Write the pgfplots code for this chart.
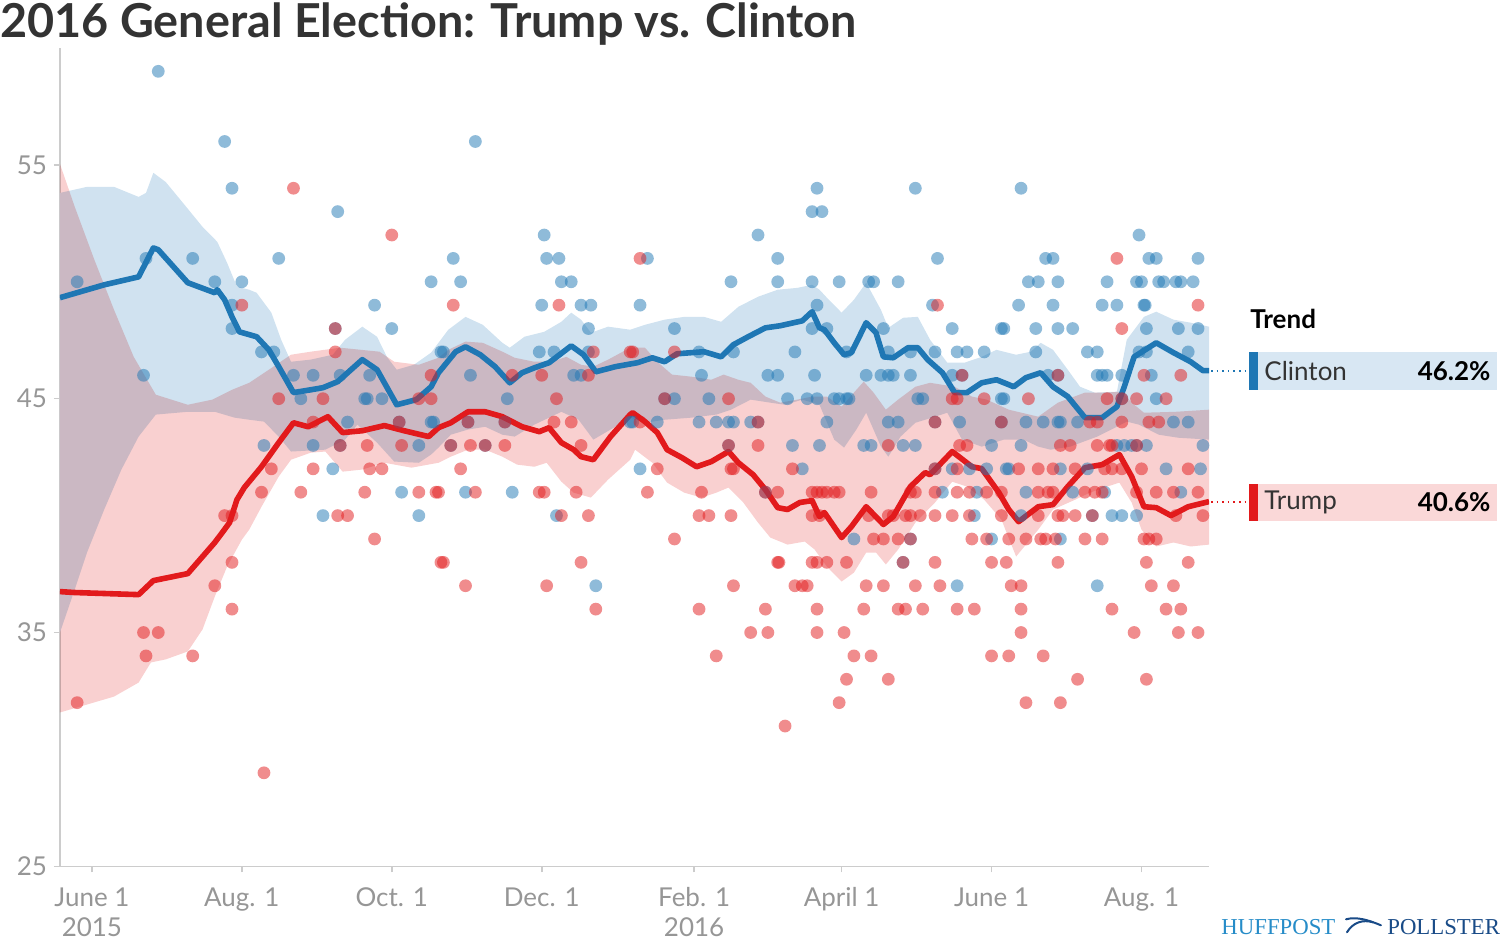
\documentclass[border=0pt]{standalone}
\usepackage{pgfplots}
\pgfplotsset{compat=1.18}
\usepgfplotslibrary{fillbetween}
\usepackage{fontspec}
\setmainfont{Lato}
\newfontfamily\hpfont{Liberation Serif}
\definecolor{cblue}{RGB}{31,119,180}
\definecolor{cred}{RGB}{226,26,28}
\definecolor{bandblue}{RGB}{208,226,240}
\definecolor{bandred}{RGB}{249,208,208}
\definecolor{boxblue}{RGB}{216,231,243}
\definecolor{boxred}{RGB}{250,216,216}
\definecolor{labgray}{RGB}{150,150,150}
\definecolor{titlegray}{RGB}{51,51,51}
\definecolor{axgray}{RGB}{204,204,204}
\definecolor{hpblue}{RGB}{38,140,200}
\definecolor{hpnavy}{RGB}{25,75,135}
\begin{document}
\begin{tikzpicture}
\begin{axis}[
  at={(0pt,0pt)}, anchor=south west,
  scale only axis, width=575pt, height=409.5pt,
  xmin=-13, xmax=454.5, ymin=25, ymax=60,
  axis x line*=bottom, axis y line*=left,
  axis line style={-, draw=axgray, line width=0.8pt},
  tick align=outside, major tick length=3pt,
  tick style={draw=axgray, line width=0.8pt},
  xtick={0,61,122,183,245,305,366,427},
  xticklabels={{June 1\\2015},{Aug. 1},{Oct. 1},{Dec. 1},{Feb. 1\\2016},{April 1},{June 1},{Aug. 1}},
  xticklabel style={align=center, font=\fontsize{13}{15}\selectfont, text=labgray, yshift=-4pt},
  ytick={25,35,45,55},
  yticklabel style={font=\fontsize{13}{15}\selectfont, text=labgray},
  /pgf/number format/assume math mode=true,
]
% ---- Clinton band
\addplot[name path=bu, draw=none, forget plot] coordinates {
(-13,53.80) (-2,54.06) (9,54.06) (19,53.63) (22,53.80) (25,54.66) (30,54.27) (37,53.38) (45,52.35) (51,51.71) (55,50.81) (59,49.79) (64,49.66) (67,49.53) (73,48.68) (77,47.52) (81,46.58) (89,46.67) (98,46.88) (103,47.52) (110,48.08) (116,47.65) (120,46.79) (124,46.24) (131,46.45) (138,46.97) (145,47.95) (152,48.50) (159,48.16) (167,47.39) (170,47.18) (176,47.65) (184,47.86) (191,48.29) (195,48.68) (199,48.38) (203,47.82) (210,48.08) (219,47.95) (225,48.16) (233,48.38) (241,48.50) (249,48.50) (256,48.29) (263,48.93) (271,49.36) (279,49.66) (287,49.74) (293,49.87) (296,49.66) (299,49.32) (305,48.68) (310,49.23) (315,49.96) (321,48.80) (324,48.03) (330,48.46) (336,48.50) (341,47.52) (348,46.54) (355,46.54) (362,46.79) (368,47.09) (376,46.88) (382,47.01) (386,47.39) (391,47.09) (397,46.24) (402,45.51) (408,45.26) (417,45.30) (421,47.52) (428,48.50) (433,48.72) (440,48.38) (447,48.25) (454.5,48.08)};
\addplot[name path=bl, draw=none, forget plot] coordinates {
(-13,35.00) (-7,36.84) (-2,38.42) (5,40.26) (12,41.97) (19,43.38) (26,44.32) (39,44.44) (50,44.44) (58,44.19) (64,44.10) (70,44.02) (76,43.38) (81,42.74) (95,42.82) (103,43.25) (108,43.89) (116,43.12) (123,42.31) (133,42.26) (138,42.61) (141,42.91) (146,43.46) (153,43.68) (160,43.80) (167,43.46) (172,43.38) (180,43.89) (191,44.44) (198,44.10) (204,43.25) (211,43.68) (219,44.19) (225,43.97) (233,44.10) (244,44.19) (254,44.32) (260,44.53) (268,44.96) (276,44.83) (282,44.74) (289,44.96) (296,44.74) (302,43.25) (306,42.91) (311,43.68) (315,44.40) (321,42.95) (324,42.52) (329,43.38) (335,43.97) (343,44.23) (348,44.40) (354,43.25) (362,42.95) (371,43.25) (379,43.25) (385,42.95) (390,42.82) (398,42.95) (409,43.38) (417,43.80) (421,44.02) (426,43.89) (434,43.46) (442,43.33) (454.5,43.25)};
\addplot[bandblue, draw=none, forget plot] fill between[of=bu and bl];
% ---- Trump band
\addplot[name path=ru, draw=none, forget plot] coordinates {
(-13,55.04) (-7,53.21) (1,50.94) (9,48.80) (17,46.79) (26,45.17) (39,44.74) (49,44.96) (57,45.38) (64,45.68) (72,46.24) (81,46.88) (89,47.01) (101,47.18) (117,47.01) (123,46.58) (133,46.45) (141,46.75) (145,47.09) (152,47.44) (159,47.39) (167,47.01) (172,46.75) (180,46.58) (187,46.58) (193,46.79) (199,46.45) (204,46.37) (210,46.67) (219,47.18) (225,47.18) (230,46.58) (236,46.03) (244,45.94) (252,45.81) (257,46.03) (263,45.81) (268,45.68) (274,45.09) (280,44.83) (287,44.96) (293,45.09) (299,45.09) (305,44.66) (310,45.26) (314,45.73) (318,45.26) (323,44.53) (328,44.96) (335,45.51) (341,45.68) (351,45.51) (358,45.09) (364,44.96) (373,44.53) (385,44.23) (393,44.83) (404,45.26) (412,45.26) (419,45.30) (423,44.83) (428,44.40) (441,44.44) (454.5,44.53)};
\addplot[name path=rl, draw=none, forget plot] coordinates {
(-13,31.58) (-2,31.92) (9,32.26) (19,32.86) (24,33.72) (30,33.85) (39,34.19) (45,35.13) (50,36.54) (55,37.82) (61,38.97) (64,39.40) (69,40.38) (76,41.67) (81,42.39) (89,42.69) (95,42.74) (102,41.88) (110,41.97) (119,42.26) (130,42.05) (141,42.26) (146,42.52) (153,42.82) (160,42.82) (167,42.52) (173,42.18) (180,42.09) (185,42.26) (191,41.45) (196,40.98) (203,40.77) (210,41.54) (219,42.39) (221,42.82) (228,42.26) (234,41.41) (241,40.98) (248,40.77) (254,40.98) (259,41.20) (265,40.56) (271,39.70) (276,39.06) (283,38.76) (290,38.89) (294,38.55) (299,37.82) (305,37.18) (310,37.56) (315,38.42) (319,38.42) (323,37.91) (328,38.55) (335,39.70) (343,40.56) (350,41.45) (356,41.24) (363,40.68) (370,39.83) (376,38.25) (385,39.40) (391,40.26) (400,40.68) (406,40.98) (413,41.24) (418,41.41) (423,40.56) (427,39.40) (433,38.68) (440,38.85) (447,38.68) (454.5,38.76)};
\addplot[bandred, draw=none, blend mode=multiply, forget plot] fill between[of=ru and rl];
% ---- Clinton polls
\addplot[color=cblue, only marks, mark=*, mark size=3.2pt, mark options={draw opacity=0, fill=cblue, fill opacity=0.5}] coordinates {
(27,59)(54,56)(57,54)(22,51)(41,51)(-6,50)(50,50)(61,50)(57,49)(57,48)(21,46)
(100,53)(76,51)(138,50)(115,49)(122,48)(99,48)(69,47)(74,47)(142,47)(82,46)(90,46)(101,46)(113,46)(85,45)(111,45)(112,45)(118,45)
(104,44)(125,44)(138,44)(139,44)(70,43)(90,43)(101,43)(133,43)(98,42)(126,41)(94,40)(133,40)
(156,56)(184,52)(147,51)(185,51)(190,51)(150,50)(191,50)(195,50)(183,49)(199,49)(203,49)(202,48)(143,47)(182,47)(188,47)(202,47)(154,46)(196,46)(199,46)(169,45)
(153,44)(168,44)(219,44)(146,43)(160,43)(152,41)(171,41)(189,40)(205,37)
(295,54)(293,53)(297,53)(271,52)(226,51)(279,51)(260,50)(279,50)(293,50)(223,49)(295,49)(237,48)(293,48)(247,47)(261,47)(286,47)(248,46)(275,46)(279,46)(294,46)(233,45)(237,45)(251,45)(283,45)(291,45)(295,45)
(220,44)(230,44)(247,44)(254,44)(259,44)(261,44)(268,44)(271,44)(259,43)(285,43)(296,43)(223,42)(289,42)(274,41)
(335,54)(344,51)(304,50)(316,50)(318,50)(328,50)(342,49)(299,48)(322,48)(350,48)(370,48)(307,47)(324,47)(333,47)(343,47)(352,47)(356,47)(363,47)(315,46)(321,46)(324,46)(326,46)(333,46)(350,46)(354,46)(302,45)(304,45)(307,45)(308,45)(336,45)(338,45)(370,45)
(299,44)(324,44)(328,44)(343,44)(353,44)(370,44)(314,43)(317,43)(330,43)(335,43)(366,43)(343,42)(350,42)(357,42)(364,42)(372,42)(346,41)(360,41)(359,40)(310,39)(333,39)(366,39)(330,38)(352,37)
(378,54)(426,52)(388,51)(391,51)(430,51)(433,51)(450,51)(381,50)(385,50)(393,50)(413,50)(425,50)(427,50)(434,50)(436,50)(441,50)(443,50)(448,50)(377,49)(391,49)(411,49)(417,49)(428,49)(428.5,49)(371,48)(384,48)(393,48)(399,48)(429,48)(442,48)(450,48)(384,47)(405,47)(409,47)(426,47)(429,47)(446,47)(389,46)(393,46)(409,46)(411,46)(413,46)(419,46)(431,46)(371,45)(419,45)(433,45)
(380,44)(387,44)(393,44)(394,44)(401,44)(440,44)(446,44)(378,43)(417,43)(420,43)(423,43)(425,43)(429,43)(452,43)(373,42)(394,42)(405,42)(437,42)(451,42)(380,41)(399,41)(412,41)(443,41)(378,40)(407,40)(415,40)(419,40)(425,40)(394,39)(409,37)};
% ---- Trump polls
\addplot[color=cred, only marks, mark=*, mark size=3.2pt, mark options={draw opacity=0, fill=cred, fill opacity=0.5}] coordinates {
(61,49)(54,40)(57,40)(57,38)(50,37)(57,36)(21,35)(27,35)(22,34)(41,34)(-6,32)(70,29)
(82,54)(122,52)(99,48)(99,47)(138,46)(76,45)(94,45)(133,45)(138,45)
(90,44)(125,44)(101,43)(112,43)(126,43)(73,42)(90,42)(113,42)(118,42)(69,41)(85,41)(111,41)(133,41)(140,41)(100,40)(104,40)(115,39)(142,38)
(147,49)(190,49)(204,47)(219,47)(171,46)(183,46)(202,46)(189,45)
(153,44)(168,44)(188,44)(195,44)(146,43)(154,43)(160,43)(168,43)(199,43)(150,42)(141,41)(156,41)(182,41)(184,41)(197,41)(191,40)(202,40)(143,38)(199,38)(152,37)(185,37)(205,36)
(223,51)(220,47)(237,47)(259,45)(233,45)
(223,44)(271,44)(259,43)(271,43)(230,42)(260,42)(261,42)(285,42)(226,41)(248,41)(274,41)(279,41)(293,41)(295,41)(247,40)(251,40)(260,40)(293,40)(237,39)(279,38)(279.5,38)(293,38)(295,38)(261,37)(286,37)(289,37)(291,37)(247,36)(274,36)(295,36)(268,35)(275,35)(295,35)(254,34)(282,31)
(344,49)(354,46)(350,45)(352,45)(363,45)(343,44)(370,44)(324,43)(353,43)(356,43)(343,42)(352,42)
(297,41)(299,41)(302,41)(304,41)(317,41)(333,41)(335,41)(343,41)(352,41)(357,41)(364,41)(370,41)
(296,40)(316,40)(324,40)(326,40)(331,40)(333,40)(337,40)(343,40)(350,40)(357,40)(370,40)
(318,39)(322,39)(328,39)(333,39)(358,39)(364,39)
(299,38)(307,38)(330,38)(343,38)(366,38)(372,38)
(315,37)(322,37)(335,37)(345,37)
(314,36)(328,36)(331,36)(338,36)(352,36)(359,36)
(306,35)(310,34)(317,34)(366,34)(373,34)(307,33)(324,33)(304,32)
(417,51)(450,49)(419,48)(393,46)(428,46)(443,46)(381,45)(413,45)(419,45)(425,45)(437,45)
(406,44)(409,44)(419,44)(430,44)(434,44)(394,43)(398,43)(409,43)(414,43)(415,43)(425,43)
(377,42)(385,42)(391,42)(400,42)(412,42)(415,42)(419,42)(427,42)(446,42)
(385,41)(389,41)(391,41)(404,41)(408,41)(411,41)(425,41)(433,41)(440,41)(450,41)
(385,40)(393,40)(395,40)(400,40)(407,40)(441,40)(452,40)
(373,39)(380,39)(386,39)(388,39)(392,39)(404,39)(411,39)(428,39)(430,39)(433,39)
(393,38)(429,38)(446,38)(374,37)(378,37)(431,37)(440,37)(378,36)(415,36)(437,36)(443,36)(378,35)(424,35)(442,35)(450,35)(387,34)(401,33)(429,33)(380,32)(394,32)};
% ---- Trend lines
\addplot[cblue, line width=2.8pt, line join=round, no marks] coordinates {
(-13,49.32)(5,49.87)(19,50.21)(25,51.45)(27,51.37)(39,49.96)(50,49.53)(51,49.66)(54,49.23)(57,48.50)(60,47.86)(64,47.74)(67,47.65)(72,47.09)(76,46.37)(82,45.26)(89,45.38)(94,45.47)(100,45.73)(110,46.67)(116,46.24)(124,44.74)(132,44.96)(138,45.51)(141,46.11)(148,47.01)(152,47.22)(158,46.88)(164,46.37)(170,45.68)(175,46.11)(180,46.32)(186,46.54)(195,47.26)(200,46.88)(205,46.15)(213,46.37)(222,46.54)(228,46.75)(233,46.58)(238,46.92)(249,47.01)(256,46.79)(261,47.31)(267,47.65)(274,48.03)(280,48.12)(289,48.33)(293,48.72)(296,48.03)(298,47.95)(302,47.39)(306,46.88)(309,46.97)(315,48.25)(319,47.82)(322,46.79)(326,46.75)(332,47.18)(336,47.18)(340,46.67)(346,46.11)(351,45.26)(356,45.26)(362,45.68)(368,45.81)(373,45.60)(375,45.51)(380,45.90)(386,46.11)(391,45.51)(397,45.09)(404,44.19)(411,44.19)(417,44.66)(420,45.51)(424,46.79)(433,47.39)(440,46.97)(447,46.58)(452,46.20)(454.5,46.2)};
\addplot[cred, line width=2.8pt, line join=round, no marks] coordinates {
(-13,36.75)(-7,36.71)(19,36.62)(25,37.22)(39,37.52)(50,38.85)(53,39.27)(56,39.70)(59,40.68)(62,41.20)(69,42.09)(76,43.12)(82,43.97)(88,43.80)(96,44.23)(102,43.55)(110,43.63)(119,43.85)(127,43.63)(137,43.38)(141,43.76)(146,43.97)(153,44.44)(160,44.44)(167,44.23)(175,43.80)(182,43.59)(186,43.76)(191,43.12)(196,42.82)(199,42.52)(204,42.39)(211,43.38)(219,44.32)(220,44.40)(225,44.02)(230,43.55)(234,42.82)(240,42.48)(246,42.09)(252,42.31)(259,42.74)(263,42.26)(269,41.75)(274,41.11)(279,40.34)(283,40.26)(288,40.56)(293,40.64)(296,39.96)(298,40.13)(305,39.06)(309,39.53)(315,40.38)(322,39.62)(326,39.96)(333,41.24)(339,41.84)(341,41.75)(350,42.74)(358,42.09)(362,42.01)(369,40.98)(373,40.26)(377,39.74)(385,40.38)(391,40.47)(397,41.24)(404,42.05)(411,42.18)(418,42.61)(423,41.67)(428,40.38)(433,40.34)(439,40.00)(446,40.38)(454.5,40.6)};
\end{axis}
% ---- title
\node[anchor=base west, inner sep=0, text=titlegray, font=\bfseries\fontsize{23.4}{27}\selectfont] at (-30pt,414.5pt) {2016 General Election: Trump vs. Clinton};
% ---- trend legend
\node[anchor=west, inner sep=0, font=\bfseries\fontsize{13}{15}\selectfont] at (595.5pt,274pt) {Trend};
\fill[boxblue] (595pt,238.5pt) rectangle (719pt,257.5pt);
\fill[cblue] (595pt,238.5pt) rectangle (599.5pt,257.5pt);
\node[anchor=west, inner sep=0, text=titlegray, font=\fontsize{13}{15}\selectfont] at (602.5pt,248pt) {Clinton};
\node[anchor=east, inner sep=0, font=\bfseries\fontsize{13}{15}\selectfont] at (716pt,248pt) {46.2\%};
\draw[cblue, dotted, line width=0.8pt] (576pt,248pt) -- (595pt,248pt);
\fill[boxred] (595pt,173pt) rectangle (719pt,191.5pt);
\fill[cred] (595pt,173pt) rectangle (599.5pt,191.5pt);
\node[anchor=west, inner sep=0, text=titlegray, font=\fontsize{13}{15}\selectfont] at (602.5pt,182.3pt) {Trump};
\node[anchor=east, inner sep=0, font=\bfseries\fontsize{13}{15}\selectfont] at (716pt,182.3pt) {40.6\%};
\draw[cred, dotted, line width=0.8pt] (576pt,182.3pt) -- (595pt,182.3pt);
% ---- logo
\node[anchor=base west, inner sep=0, text=hpblue, font=\hpfont\fontsize{11.4}{13}\selectfont] at (581pt,-34pt) {HUFFPOST};
\node[anchor=base west, inner sep=0, text=hpnavy, font=\hpfont\fontsize{11.4}{13}\selectfont] at (664pt,-34pt) {POLLSTER};
\draw[hpnavy, line width=1pt, line cap=round] (643.5pt,-26.5pt) .. controls (649pt,-25pt) and (655pt,-27pt) .. (661pt,-29.5pt);
\draw[hpnavy, line width=1pt, line cap=round] (644pt,-33pt) .. controls (647pt,-28pt) and (652pt,-26.5pt) .. (657pt,-28pt);
% ---- page extent
\path (-30pt,-40.5pt) rectangle (720pt,433.5pt);
\end{tikzpicture}
\end{document}
